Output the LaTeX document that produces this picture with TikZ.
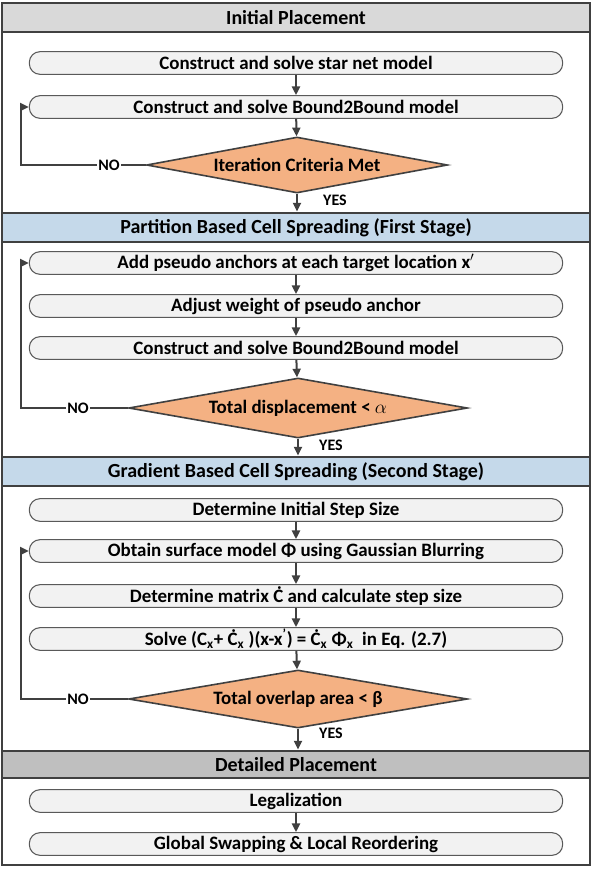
\documentclass[tikz,border=0pt]{standalone}
\usepackage{fontspec}
\setmainfont{Carlito}
\usetikzlibrary{arrows.meta,shapes.geometric}
\definecolor{framegray}{HTML}{404040}
\definecolor{pillfill}{HTML}{F2F2F2}
\definecolor{pillline}{HTML}{595959}
\definecolor{headgray}{HTML}{D9D9D9}
\definecolor{headblue}{HTML}{C5D9EA}
\definecolor{headdark}{HTML}{BFBFBF}
\definecolor{decfill}{HTML}{F4B183}

\begin{document}
\begin{tikzpicture}[
  x=0.75pt,y=-0.75pt,
  >={Triangle[length=6.5pt,width=6pt]},
  every node/.style={font=\fontsize{14.2}{16}\selectfont\bfseries},
  head/.style={draw=framegray,line width=2.2pt,minimum width=441pt,
    minimum height=21.75pt,inner sep=0pt,font=\fontsize{15}{17}\selectfont\bfseries},
  pill/.style={draw=pillline,fill=pillfill,line width=0.8pt,rounded corners=8pt,
    minimum width=400pt,minimum height=17pt,inner sep=0pt},
  decide/.style={diamond,draw=framegray,fill=decfill,line width=1.2pt,inner sep=0pt},
  lbl/.style={font=\fontsize{12}{14}\selectfont\bfseries,inner sep=1pt},
  arr/.style={draw=framegray,line width=1.5pt,->}
]
  \useasboundingbox (0,0) rectangle (594,876);
  \draw[framegray,line width=2.2pt] (2,3) rectangle (590,865);

  % initial placement
  \node[head,fill=headgray] (h1) at (296,17.5) {Initial Placement};
  \node[pill] (s1a) at (296,63) {Construct and solve star net model};
  \node[pill] (s1b) at (296,107) {Construct and solve Bound2Bound model};
  \node[decide,aspect=5.4,minimum width=225.75pt,minimum height=42pt] (d1) at (297,165)
    {Iteration Criteria Met};
  \coordinate (lp1) at (21,107);

  % first stage
  \node[head,fill=headblue] (h2) at (296,227.5) {Partition Based Cell Spreading (First Stage)};
  \node[pill] (s2a) at (296,263) {Add pseudo anchors at each target location x$^{\prime}$};
  \node[pill] (s2b) at (296,306) {Adjust weight of pseudo anchor};
  \node[pill] (s2c) at (296,348) {Construct and solve Bound2Bound model};
  \node[decide,aspect=5.65,minimum width=254pt,minimum height=45pt] (d2) at (298,408)
    {Total displacement < $\alpha$};
  \coordinate (lp2) at (21,263);

  % second stage
  \node[head,fill=headblue] (h3) at (296,471.5) {Gradient Based Cell Spreading (Second Stage)};
  \node[pill] (s3a) at (296,510) {Determine Initial Step Size};
  \node[pill] (s3b) at (296,551) {Obtain surface model Φ using Gaussian Blurring};
  \node[pill] (s3c) at (296,596) {Determine matrix Ċ and calculate step size};
  \node[pill] (s3d) at (296,639)
    {Solve (C\textsubscript{x}+ Ċ\textsubscript{x} )(x-x\textsuperscript{'}) = Ċ\textsubscript{x} Φ\textsubscript{x}\ \ in Eq. (2.7)};
  \node[decide,aspect=5.8,minimum width=254pt,minimum height=43.5pt] (d3) at (298,699)
    {Total overlap area < β};
  \coordinate (lp3) at (21,551);

  % detailed placement
  \node[head,fill=headdark,minimum height=20.25pt] (h4) at (296,764.5) {Detailed Placement};
  \node[pill] (s4a) at (296,801) {Legalization};
  \node[pill] (s4b) at (296,844) {Global Swapping \& Local Reordering};

  \draw[arr] (s1a) -- (s1b);
  \draw[arr] (s1b) -- (d1);
  \draw[arr] (d1.south) -- (d1.south |- h2.north);
  \draw[arr] (d1.west) -| (lp1) -- (s1b.west);
  \node[lbl,fill=white] at (109,165) {NO};
  \node[lbl] at (335,200) {YES};

  \draw[arr] (s2a) -- (s2b);
  \draw[arr] (s2b) -- (s2c);
  \draw[arr] (s2c) -- (d2);
  \draw[arr] (d2.south) -- (d2.south |- h3.north);
  \draw[arr] (d2.west) -| (lp2) -- (s2a.west);
  \node[lbl,fill=white] at (78,408) {NO};
  \node[lbl] at (331,445) {YES};

  \draw[arr] (s3a) -- (s3b);
  \draw[arr] (s3b) -- (s3c);
  \draw[arr] (s3c) -- (s3d);
  \draw[arr] (s3d) -- (d3);
  \draw[arr] (d3.south) -- (d3.south |- h4.north);
  \draw[arr] (d3.west) -| (lp3) -- (s3b.west);
  \node[lbl,fill=white] at (78,699) {NO};
  \node[lbl] at (331,733) {YES};

  \draw[arr] (s4a) -- (s4b);
\end{tikzpicture}
\end{document}
